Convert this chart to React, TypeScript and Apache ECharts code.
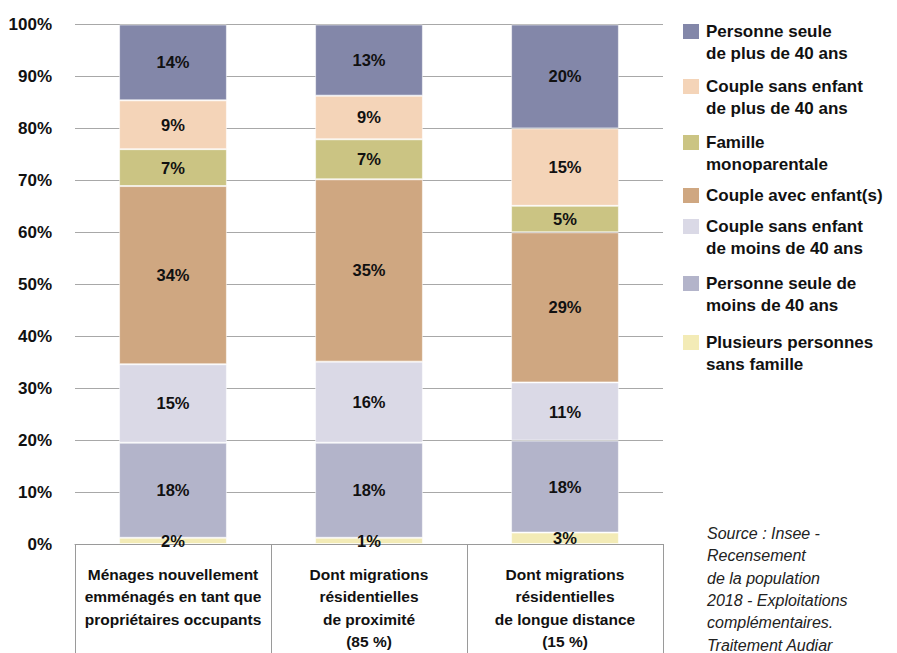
import React, { useEffect, useRef } from "react";
import * as echarts from "echarts";

const categories = [
  "Ménages nouvellement\nemménagés en tant que\npropriétaires occupants",
  "Dont migrations\nrésidentielles\nde proximité\n(85 %)",
  "Dont migrations\nrésidentielles\nde longue distance\n(15 %)",
];

// Stack order: bottom to top
const seriesNames = [
  "Plusieurs personnes sans famille",
  "Personne seule de moins de 40 ans",
  "Couple sans enfant de moins de 40 ans",
  "Couple avec enfant(s)",
  "Famille monoparentale",
  "Couple sans enfant de plus de 40 ans",
  "Personne seule de plus de 40 ans",
];
const legendLabels = [
  "Plusieurs personnes\nsans famille",
  "Personne seule de\nmoins de 40 ans",
  "Couple sans enfant\nde moins de 40 ans",
  "Couple avec enfant(s)",
  "Famille\nmonoparentale",
  "Couple sans enfant\nde plus de 40 ans",
  "Personne seule\nde plus de 40 ans",
];
const colors = ["#f3ebb6", "#b3b4ca", "#dad9e6", "#cfa781", "#cbc483", "#f4d4b8", "#8387a9"];

// Segment heights (per category)
const sansFamille = [1.2, 1.2, 2.2];
const seuleMoins40 = [18.3, 18.3, 17.7];
const coupleMoins40 = [15.1, 15.6, 11.2];
const avecEnfants = [34.3, 35.1, 28.9];
const monoparentale = [7.1, 7.7, 5.1];
const couplePlus40 = [9.4, 8.4, 14.9];
const seulePlus40 = [14.6, 13.7, 20.0];
const seriesValues = [sansFamille, seuleMoins40, coupleMoins40, avecEnfants, monoparentale, couplePlus40, seulePlus40];

// Printed labels
const labelSansFamille = [2, 1, 3];
const labelSeuleMoins40 = [18, 18, 18];
const labelCoupleMoins40 = [15, 16, 11];
const labelAvecEnfants = [34, 35, 29];
const labelMonoparentale = [7, 7, 5];
const labelCouplePlus40 = [9, 9, 15];
const labelSeulePlus40 = [14, 13, 20];
const seriesLabels = [labelSansFamille, labelSeuleMoins40, labelCoupleMoins40, labelAvecEnfants, labelMonoparentale, labelCouplePlus40, labelSeulePlus40];

const yTicks = [0, 10, 20, 30, 40, 50, 60, 70, 80, 90, 100];

const sourceText = "Source : Insee -\nRecensement\nde la population\n2018 - Exploitations\ncomplémentaires.\nTraitement Audiar";

const FONT = "'Liberation Sans', Arial, sans-serif";

// legend item tops (top of square), top item first
const legendTops = [24, 79, 135, 188, 219, 276, 335];

export default function App() {
  const ref = useRef<HTMLDivElement>(null);
  useEffect(() => {
    document.body.style.margin = "0";
    const chart = echarts.init(ref.current!, null, { renderer: "svg" });
    const legendOrder = [6, 5, 4, 3, 2, 1, 0];
    const graphics: any[] = [];
    legendOrder.forEach((si, i) => {
      graphics.push({
        type: "rect",
        left: 683,
        top: legendTops[i],
        shape: { width: 16, height: 15 },
        style: { fill: colors[si] },
      });
      graphics.push({
        type: "text",
        left: 706,
        top: legendTops[i] - 3.5,
        style: {
          text: legendLabels[si],
          font: `bold 17px ${FONT}`,
          lineHeight: 22,
          fill: "#111",
        },
      });
    });
    graphics.push({
      type: "text",
      left: 707,
      top: 522,
      style: {
        text: sourceText,
        font: `italic 16px ${FONT}`,
        lineHeight: 22.4,
        fill: "#222",
      },
    });

    chart.setOption({
      animation: false,
      grid: { left: 75, right: 234, top: 24.5, bottom: 107.7, containLabel: false },
      xAxis: {
        type: "category",
        data: categories,
        axisLine: { show: true, lineStyle: { color: "#9a9a9a", width: 1 } },
        axisTick: { show: true, interval: 0, length: 112, lineStyle: { color: "#9a9a9a", width: 1 } },
        axisLabel: {
          interval: 0,
          margin: 19,
          color: "#111",
          fontFamily: FONT,
          fontWeight: "bold",
          fontSize: 15.5,
          lineHeight: 22.5,
          align: "center",
        },
      },
      yAxis: {
        type: "value",
        min: 0,
        max: 100,
        interval: 10,
        axisLine: { show: false },
        axisTick: { show: false },
        splitLine: { lineStyle: { color: "#a8a8a8", width: 1 } },
        axisLabel: {
          formatter: (v: number) => (yTicks.includes(v) ? `${v}%` : ""),
          margin: 23,
          color: "#111",
          fontFamily: FONT,
          fontWeight: "bold",
          fontSize: 17,
        },
      },
      series: seriesNames.map((name, si) => ({
        name,
        type: "bar",
        stack: "total",
        barWidth: "55%",
        data: seriesValues[si],
        itemStyle: { color: colors[si], borderColor: "rgba(255,255,255,0.55)", borderWidth: 1 },
        label: {
          show: true,
          position: "inside",
          formatter: (p: any) => `${seriesLabels[si][p.dataIndex]}%`,
          color: "#111",
          fontFamily: FONT,
          fontWeight: "bold",
          fontSize: 16.5,
        },
      })),
      graphic: graphics,
    });
    return () => chart.dispose();
  }, []);
  return <div ref={ref} style={{ width: 897, height: 653 }} />;
}
